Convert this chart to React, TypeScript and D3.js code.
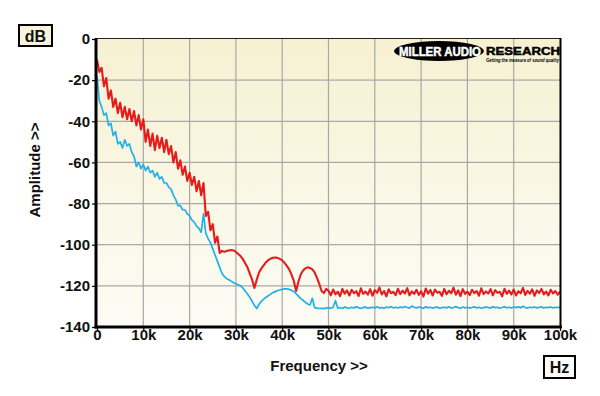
import React, { useEffect, useRef } from 'react'
import * as d3 from 'd3'

// frequency grid in kHz (0.5k steps)
const freqKHz = [
  0, 0.5, 1, 1.5, 2, 2.5, 3, 3.5, 4, 4.5, 5, 5.5, 6, 6.5, 7, 7.5, 8, 8.5, 9, 9.5,
  10, 10.5, 11, 11.5, 12, 12.5, 13, 13.5, 14, 14.5, 15, 15.5, 16, 16.5, 17, 17.5, 18, 18.5, 19, 19.5,
  20, 20.5, 21, 21.5, 22, 22.5, 23, 23.5, 24, 24.5, 25, 25.5, 26, 26.5, 27, 27.5, 28, 28.5, 29, 29.5,
  30, 30.5, 31, 31.5, 32, 32.5, 33, 33.5, 34, 34.5, 35, 35.5, 36, 36.5, 37, 37.5, 38, 38.5, 39, 39.5,
  40, 40.5, 41, 41.5, 42, 42.5, 43, 43.5, 44, 44.5, 45, 45.5, 46, 46.5, 47, 47.5, 48, 48.5, 49, 49.5,
  50, 50.5, 51, 51.5, 52, 52.5, 53, 53.5, 54, 54.5, 55, 55.5, 56, 56.5, 57, 57.5, 58, 58.5, 59, 59.5,
  60, 60.5, 61, 61.5, 62, 62.5, 63, 63.5, 64, 64.5, 65, 65.5, 66, 66.5, 67, 67.5, 68, 68.5, 69, 69.5,
  70, 70.5, 71, 71.5, 72, 72.5, 73, 73.5, 74, 74.5, 75, 75.5, 76, 76.5, 77, 77.5, 78, 78.5, 79, 79.5,
  80, 80.5, 81, 81.5, 82, 82.5, 83, 83.5, 84, 84.5, 85, 85.5, 86, 86.5, 87, 87.5, 88, 88.5, 89, 89.5,
  90, 90.5, 91, 91.5, 92, 92.5, 93, 93.5, 94, 94.5, 95, 95.5, 96, 96.5, 97, 97.5, 98, 98.5, 99, 99.5,
  100,
]

const redDb = [
  -10, -16, -14, -23, -19, -29, -25, -33, -29, -36,
  -31, -38, -33, -39, -34, -40, -35, -42, -37, -44,
  -39, -50, -44, -52, -46, -54, -47, -53, -48, -55,
  -49, -56, -52, -60, -55, -63, -59, -66, -62, -69,
  -65, -71, -67, -74, -69, -76, -70, -86, -84, -93,
  -90, -99, -96, -104, -103, -103.5, -103, -102.8, -102.6, -102.8,
  -103.5, -104.5, -105.5, -107, -109, -111, -114, -117, -121, -117,
  -113.5, -111.5, -110, -108.5, -107.5, -106.8, -106.3, -106.2, -106.4, -106.9,
  -107.6, -108.8, -110.3, -112, -114.5, -117.5, -122.5, -118, -114.5, -112.5,
  -111.5, -111, -111.3, -112, -113.5, -116, -119, -122.5, -123.5, -121.5,
  -122.4, -124.6, -121.8, -124.1, -122.9, -125.0, -121.5, -123.8, -122.2, -124.7,
  -121.9, -123.5, -122.6, -124.9, -121.2, -123.9, -122.8, -124.3, -121.6, -124.8,
  -122.1, -123.4, -120.8, -124.2, -122.5, -125.1, -121.7, -123.6, -122.9, -124.5,
  -121.4, -124.0, -122.3, -123.7, -121.1, -124.6, -122.7, -123.9, -121.9, -124.4,
  -122.6, -125.2, -121.3, -123.8, -122.0, -124.7, -121.8, -123.3, -122.9, -124.9,
  -121.5, -124.1, -122.4, -123.6, -120.9, -124.3, -122.2, -125.0, -121.6, -123.9,
  -122.8, -124.5, -121.9, -123.5, -122.5, -124.8, -121.2, -124.0, -122.7, -123.7,
  -121.6, -124.6, -122.1, -123.4, -122.9, -125.1, -121.4, -123.9, -122.3, -124.2,
  -121.8, -124.7, -122.6, -123.6, -121.0, -124.4, -122.4, -123.8, -121.7, -124.9,
  -122.2, -123.5, -121.5, -124.1, -122.8, -124.6, -121.9, -123.7, -122.5, -124.3,
  -122.8,
]

const blueDb = [
  -18, -30, -33, -37, -36, -42, -41, -47, -45, -51,
  -50, -53, -49, -52, -51, -55, -57, -62, -60, -63,
  -61, -64, -62, -65, -64, -67, -65, -68, -67, -70,
  -70, -72, -73, -76, -78, -81, -81, -83, -83, -85,
  -86, -88, -89, -91, -92, -94, -85, -94.5, -97, -99,
  -102, -105, -108, -111, -114, -115.5, -116.5, -117, -117.8, -118.5,
  -119, -119.5, -120, -121, -122.5, -124, -125.5, -127.5, -129.5, -131,
  -129, -127.5, -126.5, -125.5, -124.8, -124, -123.3, -122.8, -122.3, -122,
  -121.7, -121.5, -121.5, -121.7, -122.2, -122.8, -123.8, -125, -126.2, -127,
  -128, -128.8, -129.3, -126, -130.6, -130.8, -131, -130.9, -131.1, -130.8,
  -130.6, -130.9, -130.4, -127.2, -130.8, -130.5, -131.0, -130.3, -130.7, -130.9,
  -130.4, -130.8, -130.2, -130.6, -131.0, -130.5, -130.3, -130.9, -130.6, -130.4,
  -130.7, -130.2, -130.8, -130.5, -130.9, -130.3, -130.6, -130.1, -130.7, -130.4,
  -130.8, -130.3, -130.6, -130.0, -130.5, -130.8, -129.8, -130.4, -130.7, -130.3,
  -130.6, -130.9, -130.2, -130.7, -130.4, -130.8, -130.5, -130.3, -130.9, -130.6,
  -130.4, -130.7, -130.2, -130.8, -130.5, -130.1, -130.6, -130.9, -130.3, -130.7,
  -130.4, -130.8, -130.5, -130.2, -130.7, -130.4, -130.9, -130.6, -130.3, -130.5,
  -130.8, -130.2, -130.6, -130.4, -130.9, -130.5, -130.1, -130.7, -130.4, -130.8,
  -130.3, -130.6, -130.2, -130.7, -129.9, -130.5, -130.8, -130.4, -130.6, -130.3,
  -130.7, -130.5, -130.2, -130.8, -130.4, -130.6, -130.3, -130.7, -130.5, -130.4,
  -130.6,
]

const xTicks = [0, 10, 20, 30, 40, 50, 60, 70, 80, 90, 100]
const yTicks = [0, -20, -40, -60, -80, -100, -120, -140]

const W = 600
const H = 396
const FONT = '"Liberation Sans", Arial, sans-serif'

export default function App() {
  const ref = useRef<SVGSVGElement>(null)

  useEffect(() => {
    const el = ref.current
    if (!el) return
    const svg = d3.select(el)
    svg.selectAll('*').remove()

    const x = d3.scaleLinear().domain([0, 100]).range([97, 560])
    const y = d3.scaleLinear().domain([-140, 0]).range([327, 39])

    const defs = svg.append('defs')
    const grad = defs.append('linearGradient').attr('id', 'bg').attr('x1', 0).attr('y1', 0).attr('x2', 0).attr('y2', 1)
    grad.append('stop').attr('offset', '0%').attr('stop-color', '#f6f1d2')
    grad.append('stop').attr('offset', '100%').attr('stop-color', '#fcfcf5')
    defs.append('clipPath').attr('id', 'plot')
      .append('rect').attr('x', 97).attr('y', 39).attr('width', 463).attr('height', 288)

    svg.append('rect').attr('width', W).attr('height', H).attr('fill', '#ffffff')
    svg.append('rect').attr('x', 97).attr('y', 39).attr('width', 463).attr('height', 288).attr('fill', 'url(#bg)')

    // grid
    const g = svg.append('g')
    g.selectAll('.vg').data(xTicks.slice(1, -1)).join('line')
      .attr('x1', d => x(d)).attr('x2', d => x(d)).attr('y1', 39).attr('y2', 327)
      .attr('stroke', '#a8a8a8').attr('stroke-width', 1.2)
    g.selectAll('.hg').data(yTicks.slice(1, -1)).join('line')
      .attr('x1', 97).attr('x2', 560).attr('y1', d => y(d)).attr('y2', d => y(d))
      .attr('stroke', '#a8a8a8').attr('stroke-width', 1.2)

    // logo
    const logo = svg.append('g')
    logo.append('ellipse').attr('cx', 439).attr('cy', 51).attr('rx', 45).attr('ry', 10).attr('fill', '#000')
    logo.append('text').attr('x', 399).attr('y', 55.5).attr('textLength', 82).attr('lengthAdjust', 'spacingAndGlyphs')
      .attr('font-family', FONT).attr('font-weight', 700).attr('font-size', 12.5).attr('fill', '#fff')
      .attr('stroke', '#fff').attr('stroke-width', 0.5).text('MILLER AUDIO')
    logo.append('text').attr('x', 486).attr('y', 54.5).attr('textLength', 74).attr('lengthAdjust', 'spacingAndGlyphs')
      .attr('font-family', FONT).attr('font-weight', 700).attr('font-size', 11.5).attr('fill', '#000')
      .attr('stroke', '#000').attr('stroke-width', 0.5).text('RESEARCH')
    logo.append('text').attr('x', 486).attr('y', 62).attr('textLength', 73).attr('lengthAdjust', 'spacingAndGlyphs')
      .attr('font-family', FONT).attr('font-weight', 700).attr('font-style', 'italic').attr('font-size', 4.5).attr('fill', '#000')
      .text('Getting the measure of sound quality')

    // traces
    const red = freqKHz.map((f, i) => [f, redDb[i]] as [number, number])
    const blue = freqKHz.map((f, i) => [f, blueDb[i]] as [number, number])
    const line = d3.line<[number, number]>().x(d => x(d[0])).y(d => y(d[1]))
    const traces = svg.append('g').attr('clip-path', 'url(#plot)')
    traces.append('path').datum(blue).attr('d', line).attr('fill', 'none')
      .attr('stroke', '#1fb2e8').attr('stroke-width', 1.7).attr('stroke-linejoin', 'round')
    traces.append('path').datum(red).attr('d', line).attr('fill', 'none')
      .attr('stroke', '#e61c1c').attr('stroke-width', 2.1).attr('stroke-linejoin', 'round')

    // frame
    svg.append('line').attr('x1', 97).attr('x2', 561).attr('y1', 38.5).attr('y2', 38.5).attr('stroke', '#222').attr('stroke-width', 1)
    svg.append('line').attr('x1', 560.5).attr('x2', 560.5).attr('y1', 38).attr('y2', 328).attr('stroke', '#000').attr('stroke-width', 2)

    // axes
    const xAxis = d3.axisBottom(x).tickValues(xTicks).tickSize(4).tickPadding(0)
      .tickFormat(d => (d === 0 ? '0' : `${d}k`))
    const yAxis = d3.axisLeft(y).tickValues(yTicks).tickSize(4).tickPadding(2)
      .tickFormat(d => `${d}`)

    const gx = svg.append('g').attr('transform', 'translate(0,327)').call(xAxis)
    const gy = svg.append('g').attr('transform', 'translate(96,0)').call(yAxis)
    for (const a of [gx, gy]) {
      a.select('.domain').remove()
      a.selectAll('.tick line').attr('stroke', '#000').attr('stroke-width', 1.2)
      a.selectAll('.tick text').attr('fill', '#111').attr('font-family', FONT)
        .attr('font-weight', 700).attr('font-size', 15)
    }
    gx.selectAll('.tick text').attr('y', 2)
    svg.append('line').attr('x1', 96).attr('x2', 96).attr('y1', 38).attr('y2', 328.5).attr('stroke', '#000').attr('stroke-width', 3)
    svg.append('line').attr('x1', 94.5).attr('x2', 562).attr('y1', 327).attr('y2', 327).attr('stroke', '#000').attr('stroke-width', 3)

    // axis titles
    svg.append('text').attr('transform', 'translate(40,170) rotate(-90)').attr('text-anchor', 'middle')
      .attr('font-family', FONT).attr('font-weight', 700).attr('font-size', 15).attr('fill', '#111').text('Amplitude >>')
    svg.append('text').attr('x', 319).attr('y', 371).attr('text-anchor', 'middle')
      .attr('font-family', FONT).attr('font-weight', 700).attr('font-size', 15).attr('fill', '#111').text('Frequency >>')

    // unit boxes
    svg.append('rect').attr('x', 19).attr('y', 25).attr('width', 33).attr('height', 21)
      .attr('fill', '#f7f3dc').attr('stroke', '#000').attr('stroke-width', 2)
    svg.append('text').attr('x', 35.5).attr('y', 41.5).attr('text-anchor', 'middle')
      .attr('font-family', FONT).attr('font-weight', 700).attr('font-size', 16).attr('fill', '#111').text('dB')
    svg.append('rect').attr('x', 544).attr('y', 356).attr('width', 31).attr('height', 22)
      .attr('fill', '#ffffff').attr('stroke', '#000').attr('stroke-width', 2)
    svg.append('text').attr('x', 559.5).attr('y', 373).attr('text-anchor', 'middle')
      .attr('font-family', FONT).attr('font-weight', 700).attr('font-size', 16).attr('fill', '#111').text('Hz')
  }, [])

  return (
    <svg ref={ref} width={W} height={H} style={{ position: 'absolute', left: 0, top: 0, display: 'block' }} />
  )
}
